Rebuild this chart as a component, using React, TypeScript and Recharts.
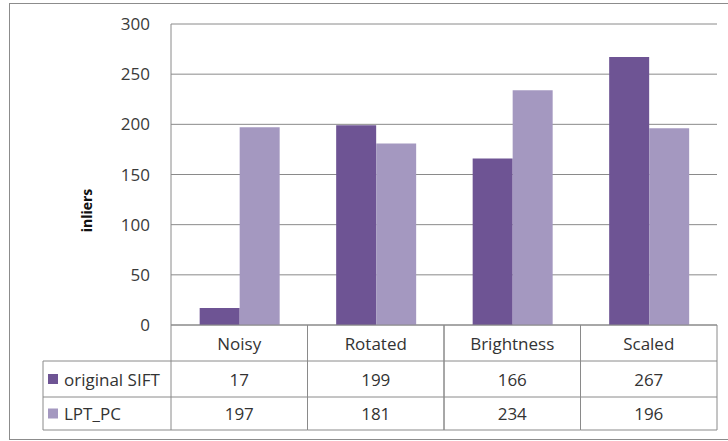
import React from "react";
import { BarChart, Bar, XAxis, YAxis, CartesianGrid } from "recharts";

// Inlier counts per test condition
const categories = ["Noisy", "Rotated", "Brightness", "Scaled"];
const siftValues = [17, 199, 166, 267];
const lptValues = [197, 181, 234, 196];
const yTicks = [0, 50, 100, 150, 200, 250, 300];

const SERIES = [
  { key: "sift", name: "original SIFT", color: "#6e5494", values: siftValues },
  { key: "lpt", name: "LPT_PC", color: "#a498c0", values: lptValues },
];

const data = categories.map((c, i) => ({
  category: c,
  sift: siftValues[i],
  lpt: lptValues[i],
}));

const W = 728;
const H = 441;
const MARGIN = { top: 24, right: 11, bottom: 0, left: 0 };
const Y_AXIS_W = 171;
const X_AXIS_H = 116;
const PLOT_W = W - MARGIN.left - MARGIN.right - Y_AXIS_W;
const BAND = PLOT_W / categories.length;

const FONT = "'Open Sans', sans-serif";
const FONT_SIZE = 17;
const LINE = "#8a8a8a";
const TEXT = "#333333";

// Data-table rows under the axis (offsets from the axis line)
const ROW_HEADER = 36;
const ROW_1 = 72;
const ROW_2 = 105;
const LEGEND_W = 128;

const TableTick = (props: any) => {
  const { x, y, payload } = props;
  const i = payload.index;
  const left = x - BAND / 2;
  const right = x + BAND / 2;
  const rowsTop = y + ROW_HEADER;
  const bottom = y + ROW_2;
  const row1Mid = (y + ROW_HEADER + y + ROW_1) / 2;
  const row2Mid = (y + ROW_1 + y + ROW_2) / 2;
  const legendLeft = left - LEGEND_W;
  const textStyle = { fontFamily: FONT, fontSize: FONT_SIZE, fill: TEXT };
  return (
    <g>
      <line x1={left} y1={y} x2={left} y2={bottom} stroke={LINE} />
      <line x1={right} y1={y} x2={right} y2={bottom} stroke={LINE} />
      <line x1={left} y1={rowsTop} x2={right} y2={rowsTop} stroke={LINE} />
      <line x1={left} y1={y + ROW_1} x2={right} y2={y + ROW_1} stroke={LINE} />
      <line x1={left} y1={bottom} x2={right} y2={bottom} stroke={LINE} />
      <text x={x} y={(y + rowsTop) / 2} textAnchor="middle" dominantBaseline="central" style={textStyle}>
        {payload.value}
      </text>
      <text x={x} y={row1Mid} textAnchor="middle" dominantBaseline="central" style={textStyle}>
        {SERIES[0].values[i]}
      </text>
      <text x={x} y={row2Mid} textAnchor="middle" dominantBaseline="central" style={textStyle}>
        {SERIES[1].values[i]}
      </text>
      {i === 0 && (
        <g>
          <line x1={legendLeft} y1={rowsTop} x2={left} y2={rowsTop} stroke={LINE} />
          <line x1={legendLeft} y1={y + ROW_1} x2={left} y2={y + ROW_1} stroke={LINE} />
          <line x1={legendLeft} y1={bottom} x2={left} y2={bottom} stroke={LINE} />
          <line x1={legendLeft} y1={rowsTop} x2={legendLeft} y2={bottom} stroke={LINE} />
          {SERIES.map((s, k) => {
            const mid = k === 0 ? row1Mid : row2Mid;
            return (
              <g key={s.key}>
                <rect x={legendLeft + 5} y={mid - 5} width={10} height={10} fill={s.color} />
                <text x={legendLeft + 21} y={mid} dominantBaseline="central" style={textStyle}>
                  {s.name}
                </text>
              </g>
            );
          })}
        </g>
      )}
    </g>
  );
};

const AxisTitle = (props: any) => {
  const { viewBox } = props;
  const cx = 86;
  const cy = viewBox.y + viewBox.height / 2 + 36;
  return (
    <text
      x={cx}
      y={cy}
      transform={`rotate(-90 ${cx} ${cy})`}
      textAnchor="middle"
      dominantBaseline="central"
      style={{ fontFamily: FONT, fontSize: 14, fontWeight: 700, fill: "#111" }}
    >
      inliers
    </text>
  );
};

export default function App() {
  return (
    <div
      style={{
        position: "absolute",
        left: 0,
        top: 0,
        width: W,
        height: H,
        overflow: "hidden",
        background: "#fff",
      }}
    >
      <div
        style={{
          position: "absolute",
          left: 9,
          top: 3,
          width: 740,
          height: 437,
          border: "1px solid #8c8c8c",
          boxSizing: "border-box",
        }}
      />
      <div style={{ position: "absolute", left: 0, top: 0 }}>
        <BarChart
          width={W}
          height={H}
          data={data}
          margin={MARGIN}
          barCategoryGap="21%"
          barGap={0}
        >
          <CartesianGrid vertical={false} stroke={LINE} strokeDasharray="" />
          <XAxis
            dataKey="category"
            height={X_AXIS_H}
            tickLine={false}
            tickSize={0}
            tickMargin={0}
            axisLine={{ stroke: LINE }}
            interval={0}
            tick={<TableTick />}
          />
          <YAxis
            width={Y_AXIS_W}
            domain={[0, 300]}
            ticks={yTicks}
            tickLine={false}
            tickSize={0}
            tickMargin={21}
            axisLine={{ stroke: LINE }}
            tick={{ fontFamily: FONT, fontSize: FONT_SIZE, fill: "#3a3a3a" }}
            label={<AxisTitle />}
          />
          {SERIES.map((s) => (
            <Bar key={s.key} dataKey={s.key} name={s.name} fill={s.color} isAnimationActive={false} />
          ))}
        </BarChart>
      </div>
    </div>
  );
}
